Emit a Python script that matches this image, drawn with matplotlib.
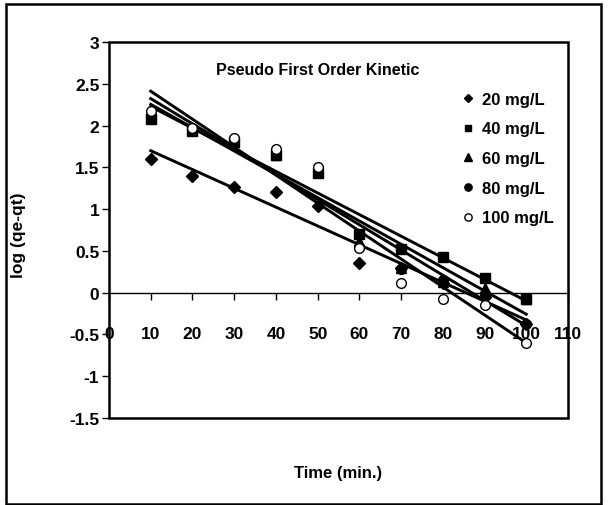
import matplotlib
matplotlib.use("Agg")
import matplotlib.pyplot as plt
import numpy as np
from matplotlib.patches import Rectangle

plt.rcParams["font.family"] = ["Liberation Sans Narrow", "Liberation Sans", "DejaVu Sans"]
plt.rcParams["font.weight"] = "bold"

TIME = [10, 20, 30, 40, 50, 60, 70, 80, 90, 100]

Y_20 = [1.60, 1.40, 1.27, 1.21, 1.04, 0.35, 0.30, 0.12, -0.05, -0.38]
Y_40 = [2.08, 1.93, 1.80, 1.65, 1.43, 0.70, 0.52, 0.43, 0.18, -0.08]
Y_60 = [2.10, 1.95, 1.80, 1.65, 1.45, 0.62, 0.30, 0.13, 0.05, -0.07]
Y_80 = [2.12, 1.95, 1.82, 1.70, 1.47, 0.55, 0.28, 0.15, -0.02, -0.38]
Y_100 = [2.18, 1.97, 1.85, 1.72, 1.50, 0.53, 0.12, -0.07, -0.15, -0.60]

LABELS = ["20 mg/L", "40 mg/L", "60 mg/L", "80 mg/L", "100 mg/L"]
X_TICKS = list(range(0, 111, 10))
Y_TICKS = [-1.5, -1, -0.5, 0, 0.5, 1, 1.5, 2, 2.5, 3]

# marker, size, face colour
STYLES = [("D", 6, "black"), ("s", 6.5, "black"), ("^", 7.5, "black"),
          ("o", 7, "black"), ("o", 7, "white")]

fig = plt.figure(figsize=(6.08, 5.06), dpi=100)
ax = fig.add_axes([109 / 608, 1 - 419 / 506, 459 / 608, 376 / 506])

x = np.array(TIME, dtype=float)
for ys, lab, (m, ms, fc) in zip([Y_20, Y_40, Y_60, Y_80, Y_100], LABELS, STYLES):
    y = np.array(ys)
    k, b = np.polyfit(x, y, 1)
    ax.plot([x[0], x[-1]], [k * x[0] + b, k * x[-1] + b], color="black", lw=2.1, zorder=2)
    ax.plot(x, y, linestyle="none", marker=m, ms=ms, mfc=fc, mec="black",
            mew=1.0, label=lab, zorder=3)

ax.set_xlim(0, 110)
ax.set_ylim(-1.5, 3)
ax.set_xticks(X_TICKS)
ax.set_yticks(Y_TICKS)
ax.set_yticklabels([f"{v:g}" for v in Y_TICKS])

# x axis crosses at y = 0, frame drawn separately
ax.spines["bottom"].set_position(("data", 0))
ax.spines["bottom"].set_linewidth(1.0)
for s in ["top", "right", "left"]:
    ax.spines[s].set_visible(False)
ax.add_patch(Rectangle((0, 0), 1, 1, transform=ax.transAxes, fill=False,
                       lw=1.8, edgecolor="black", clip_on=False, zorder=5))

ax.tick_params(axis="x", direction="out", length=5, width=1, pad=19, labelsize=12.5)
ax.tick_params(axis="y", direction="out", length=5, width=1, pad=2, labelsize=12.5)

ax.text(0.455, 0.928, "Pseudo First Order Kinetic", transform=ax.transAxes,
        ha="center", va="center", fontsize=11.5, fontweight="bold")

ax.legend(loc="upper left", bbox_to_anchor=(0.75, 0.89), frameon=False,
          fontsize=12, handlelength=0.8, handletextpad=0.4, borderpad=0,
          labelspacing=0.88, markerscale=0.75)

ax.set_ylabel("log (qe-qt)", fontsize=12.5, fontweight="bold")
ax.yaxis.set_label_coords(-0.18, 0.49)
ax.set_xlabel("Time (min.)", fontsize=12, fontweight="bold")
ax.xaxis.set_label_coords(0.5, -0.125)

fig.patches.append(Rectangle((6 / 608, 0.002), 595 / 608, 0.988, transform=fig.transFigure,
                             fill=False, lw=1.8, edgecolor="black", figure=fig))

fig.savefig("out.png", dpi=100)
